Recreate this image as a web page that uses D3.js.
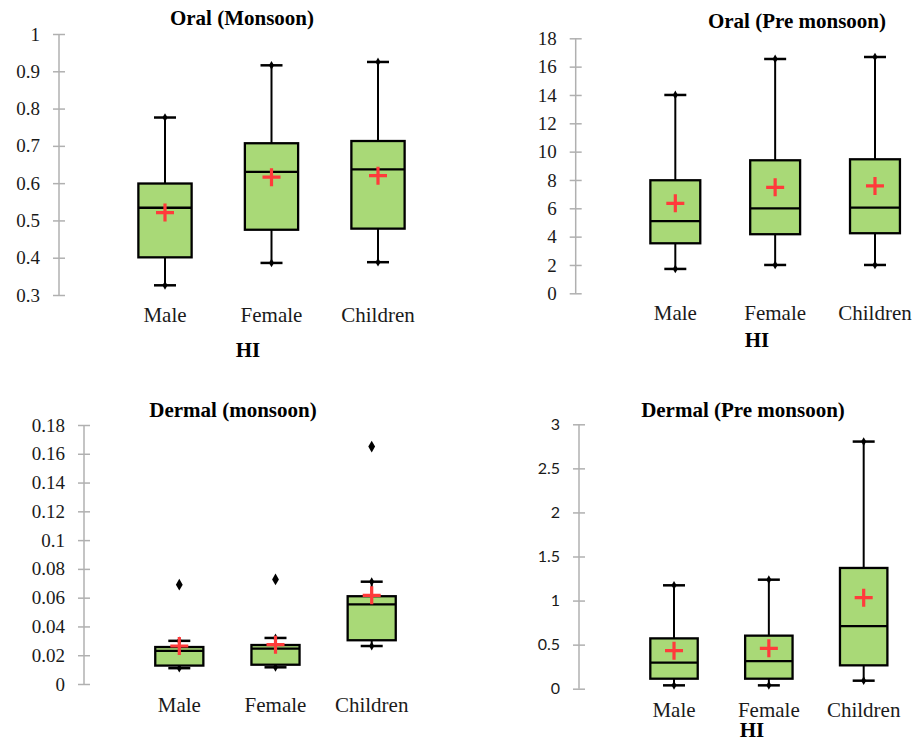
<!DOCTYPE html>
<html>
<head>
<meta charset="utf-8">
<script src="https://cdn.jsdelivr.net/npm/d3@7"></script>
<style>
  html, body { margin: 0; padding: 0; background: #fff; }
  svg { display: block; }
</style>
</head>
<body>
<svg id="chart" width="918" height="739"></svg>
<script>
// categories
const groups = ["Male", "Female", "Children"];

// box stats per panel (min / q1 / median / q3 / max / mean / outliers)
const oralMonsoon = [
    { min: 0.326, q1: 0.401, median: 0.534, q3: 0.599, max: 0.776, mean: 0.521, outliers: [] },
    { min: 0.386, q1: 0.475, median: 0.630, q3: 0.707, max: 0.916, mean: 0.616, outliers: [] },
    { min: 0.388, q1: 0.478, median: 0.637, q3: 0.713, max: 0.925, mean: 0.620, outliers: [] }
];
const oralPreMonsoon = [
    { min: 1.72, q1: 3.53, median: 5.10, q3: 7.98, max: 14.0, mean: 6.35, outliers: [] },
    { min: 2.00, q1: 4.17, median: 6.00, q3: 9.39, max: 16.54, mean: 7.48, outliers: [] },
    { min: 2.00, q1: 4.24, median: 6.05, q3: 9.46, max: 16.68, mean: 7.58, outliers: [] }
];
const dermalMonsoon = [
    { min: 0.011, q1: 0.0128, median: 0.023, q3: 0.0257, max: 0.030, mean: 0.0264, outliers: [0.069] },
    { min: 0.0116, q1: 0.0134, median: 0.0246, q3: 0.0271, max: 0.032, mean: 0.0273, outliers: [0.0727] },
    { min: 0.0264, q1: 0.0304, median: 0.0554, q3: 0.061, max: 0.0711, mean: 0.0616, outliers: [0.165] }
];
const dermalPreMonsoon = [
    { min: 0.038, q1: 0.1135, median: 0.295, q3: 0.571, max: 1.173, mean: 0.431, outliers: [] },
    { min: 0.038, q1: 0.1135, median: 0.314, q3: 0.602, max: 1.237, mean: 0.458, outliers: [] },
    { min: 0.091, q1: 0.265, median: 0.711, q3: 1.370, max: 2.804, mean: 1.033, outliers: [] }
];

// tick values
const oralMonsoonTicks = [0.3, 0.4, 0.5, 0.6, 0.7, 0.8, 0.9, 1];
const oralPreMonsoonTicks = [0, 2, 4, 6, 8, 10, 12, 14, 16, 18];
const dermalMonsoonTicks = [0, 0.02, 0.04, 0.06, 0.08, 0.1, 0.12, 0.14, 0.16, 0.18];
const dermalPreMonsoonTicks = [0, 0.5, 1, 1.5, 2, 2.5, 3];

const serif = "'Liberation Serif', 'Times New Roman', serif";
const sans = "Lato, 'Liberation Sans', sans-serif";
const boxFill = "#a9d977";
const meanColor = "#ff3b3b";
const axisColor = "#b0b0b0";

const panels = [
    { title: "Oral (Monsoon)", data: oralMonsoon, ticks: oralMonsoonTicks, domain: [0.3, 1],
      axisX: 59, yRange: [295, 34], xRange: [111.75, 431.25], labelFont: serif, labelSize: 19,
      titleX: 242, titleY: 25, catY: 322, hi: [248, 357] },
    { title: "Oral (Pre monsoon)", data: oralPreMonsoon, ticks: oralPreMonsoonTicks, domain: [0, 18],
      axisX: 575.7, yRange: [293.3, 38.3], xRange: [625.4, 924.9], labelFont: serif, labelSize: 19,
      titleX: 797, titleY: 28, catY: 320, hi: [757, 347] },
    { title: "Dermal (monsoon)", data: dermalMonsoon, ticks: dermalMonsoonTicks, domain: [0, 0.18],
      axisX: 84, yRange: [684, 425], xRange: [131.2, 419.8], labelFont: serif, labelSize: 19,
      titleX: 233, titleY: 417, catY: 712, hi: null },
    { title: "Dermal (Pre monsoon)", data: dermalPreMonsoon, ticks: dermalPreMonsoonTicks, domain: [0, 3],
      axisX: 579, yRange: [688.7, 424.3], xRange: [626.6, 911.1], labelFont: sans, labelSize: 16,
      titleX: 743, titleY: 417, catY: 717, hi: [752, 737] }
];

const svg = d3.select("#chart");

function drawPanel(p) {
    const g = svg.append("g");

    const y = d3.scaleLinear().domain(p.domain).range(p.yRange);
    const x = d3.scaleBand().domain(groups).range(p.xRange).paddingInner(0.5).paddingOuter(0.25);
    const bw = x.bandwidth();
    const cx = d => x(d) + bw / 2;

    // title
    g.append("text")
        .attr("x", p.titleX)
        .attr("y", p.titleY)
        .attr("text-anchor", "middle")
        .style("font-family", serif)
        .style("font-weight", "bold")
        .style("font-size", "21px")
        .text(p.title);

    // y axis: grey line, ticks crossing both sides
    const axis = g.append("g").attr("transform", `translate(${p.axisX},0)`)
        .call(d3.axisLeft(y).tickValues(p.ticks).tickSize(6).tickPadding(13).tickFormat(d3.format("~g")));
    axis.attr("font-family", null).attr("font-size", null);
    axis.select(".domain").remove();
    axis.selectAll(".tick line").attr("stroke", axisColor).attr("x1", -6).attr("x2", 6).attr("stroke-width", 1.5);
    axis.selectAll(".tick text")
        .attr("fill", "#1a1a1a")
        .style("font-family", p.labelFont)
        .style("font-size", p.labelSize + "px");
    axis.append("line")
        .attr("y1", y(p.domain[0])).attr("y2", y(p.domain[1]))
        .attr("stroke", axisColor).attr("stroke-width", 1.5);

    // category labels
    g.selectAll(".cat").data(groups).join("text")
        .attr("x", d => cx(d))
        .attr("y", p.catY)
        .attr("text-anchor", "middle")
        .attr("fill", "#1a1a1a")
        .style("font-family", serif)
        .style("font-size", "21px")
        .text(d => d);

    if (p.hi) {
        g.append("text")
            .attr("x", p.hi[0]).attr("y", p.hi[1])
            .attr("text-anchor", "middle")
            .style("font-family", serif)
            .style("font-weight", "bold")
            .style("font-size", "21px")
            .text("HI");
    }

    const rows = p.data.map((d, i) => Object.assign({ group: groups[i] }, d));
    const boxes = g.selectAll(".box").data(rows).join("g");

    // whiskers
    boxes.append("line")
        .attr("x1", d => cx(d.group)).attr("x2", d => cx(d.group))
        .attr("y1", d => y(d.max)).attr("y2", d => y(d.q3))
        .attr("stroke", "#000").attr("stroke-width", 2);
    boxes.append("line")
        .attr("x1", d => cx(d.group)).attr("x2", d => cx(d.group))
        .attr("y1", d => y(d.q1)).attr("y2", d => y(d.min))
        .attr("stroke", "#000").attr("stroke-width", 2);

    // caps with small diamond markers
    ["min", "max"].forEach(k => {
        boxes.append("line")
            .attr("x1", d => cx(d.group) - 11).attr("x2", d => cx(d.group) + 11)
            .attr("y1", d => y(d[k])).attr("y2", d => y(d[k]))
            .attr("stroke", "#000").attr("stroke-width", 2.5);
        boxes.append("path")
            .attr("d", d3.symbol(d3.symbolDiamond, 22))
            .attr("transform", d => `translate(${cx(d.group)},${y(d[k])})`)
            .attr("fill", "#000");
    });

    // box
    boxes.append("rect")
        .attr("x", d => x(d.group))
        .attr("width", bw)
        .attr("y", d => y(d.q3))
        .attr("height", d => y(d.q1) - y(d.q3))
        .attr("fill", boxFill)
        .attr("stroke", "#000")
        .attr("stroke-width", 2.3);

    // median
    boxes.append("line")
        .attr("x1", d => x(d.group)).attr("x2", d => x(d.group) + bw)
        .attr("y1", d => y(d.median)).attr("y2", d => y(d.median))
        .attr("stroke", "#000").attr("stroke-width", 2.3);

    // mean as red plus
    boxes.append("path")
        .attr("d", d => {
            const mx = cx(d.group), my = y(d.mean);
            return `M${mx - 9},${my}H${mx + 9}M${mx},${my - 9}V${my + 9}`;
        })
        .attr("stroke", meanColor)
        .attr("stroke-width", 3.2)
        .attr("fill", "none");

    // outliers
    boxes.each(function(d) {
        d3.select(this).selectAll(".out").data(d.outliers).join("path")
            .attr("d", d3.symbol(d3.symbolDiamond, 40))
            .attr("transform", v => `translate(${cx(d.group)},${y(v)})`)
            .attr("fill", "#000");
    });
}

panels.forEach(drawPanel);
</script>
</body>
</html>
